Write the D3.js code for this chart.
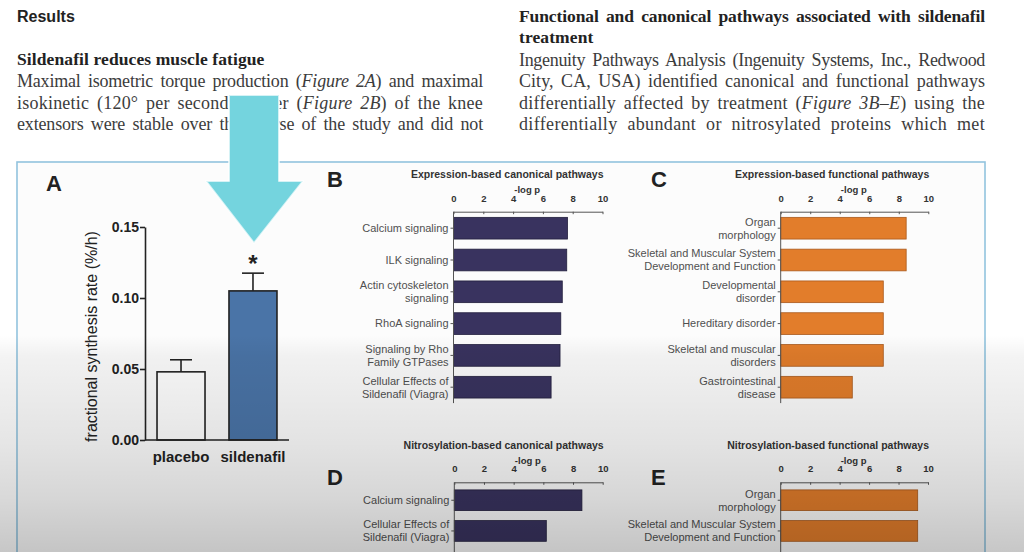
<!DOCTYPE html>
<html>
<head>
<meta charset="utf-8">
<script src="https://cdn.jsdelivr.net/npm/d3@7"></script>
<style>
    body { margin: 0; background: #fff; overflow: hidden; }
    svg { display: block; }
</style>
</head>
<body>
<svg id="page" width="1024" height="552"></svg>
<script>
//Panel A data: fractional synthesis rate
var fsrGroups = ["placebo", "sildenafil"];
var fsrMean = [0.048, 0.105];
var fsrSem = [0.0085, 0.0125];
var fsrTicks = [0, 0.05, 0.10, 0.15];

//Panels B-E data: -log p
var pTicks = [0, 2, 4, 6, 8, 10];

var exprCanonLabels = ["Calcium signaling", "ILK signaling", "Actin cytoskeleton\nsignaling", "RhoA signaling", "Signaling by Rho\nFamily GTPases", "Cellular Effects of\nSildenafil (Viagra)"];
var exprCanonValues = [7.65, 7.6, 7.3, 7.2, 7.15, 6.55];

var exprFuncLabels = ["Organ\nmorphology", "Skeletal and Muscular System\nDevelopment and Function", "Developmental\ndisorder", "Hereditary disorder", "Skeletal and muscular\ndisorders", "Gastrointestinal\ndisease"];
var exprFuncValues = [8.5, 8.5, 6.95, 6.95, 6.95, 4.85];

var nitroCanonLabels = ["Calcium signaling", "Cellular Effects of\nSildenafil (Viagra)"];
var nitroCanonValues = [8.6, 6.2];

var nitroFuncLabels = ["Organ\nmorphology", "Skeletal and Muscular System\nDevelopment and Function"];
var nitroFuncValues = [9.3, 9.3];

//Page text lines (_..._ = italic)
var leftHead = "Results";
var leftSub = "Sildenafil reduces muscle fatigue";
var leftLines = [
    "Maximal isometric torque production (_Figure 2A_) and maximal",
    "isokinetic (120° per second) power (_Figure 2B_) of the knee",
    "extensors were stable over the course of the study and did not"
];
var rightHead = ["Functional and canonical pathways associated with sildenafil", "treatment"];
var rightLines = [
    "Ingenuity Pathways Analysis (Ingenuity Systems, Inc., Redwood",
    "City, CA, USA) identified canonical and functional pathways",
    "differentially affected by treatment (_Figure 3B–E_) using the",
    "differentially abundant or nitrosylated proteins which met"
];

var svg = d3.select("#page");
var sans = "'Liberation Sans', Arial, sans-serif";
var serif = "'Liberation Serif', 'Times New Roman', serif";

//Stretch a line to a given width: a little letter spacing, the rest as word spacing
function justify(sel, width, maxLetter) {
    sel.each(function() {
        var t = d3.select(this);
        var str = this.textContent;
        var spaces = (str.match(/ /g) || []).length;
        var chars = str.length;
        t.attr("letter-spacing", 0).attr("word-spacing", 0);
        var n0 = this.getComputedTextLength();
        var ls = Math.min(maxLetter, (width - n0 - 3 * spaces) / chars);
        t.attr("letter-spacing", ls);
        var n1 = this.getComputedTextLength();
        if (spaces > 0) t.attr("word-spacing", (width - n1) / spaces);
    });
}

//Write a line, turning _x_ parts into italic tspans
function writeLine(g, str, x, y, opts) {
    var t = g.append("text")
        .attr("x", x)
        .attr("y", y)
        .attr("font-family", serif)
        .attr("font-size", opts.size)
        .attr("font-weight", opts.bold ? "bold" : "normal")
        .attr("letter-spacing", opts.spacing || 0)
        .attr("fill", opts.color);
    str.split("_").forEach(function(part, i) {
        t.append("tspan")
            .attr("font-style", i % 2 === 1 ? "italic" : "normal")
            .text(part);
    });
    if (opts.width) justify(t, opts.width, opts.spacing || 0);
    return t;
}

var textGroup = svg.append("g");

textGroup.append("text")
    .attr("x", 17)
    .attr("y", 22)
    .attr("font-family", sans)
    .attr("font-size", 16)
    .attr("font-weight", "bold")
    .attr("fill", "#222")
    .text(leftHead);

writeLine(textGroup, leftSub, 17, 65, {size: 17.5, bold: true, color: "#222", spacing: 0.1});
leftLines.forEach(function(l, i) {
    writeLine(textGroup, l, 17, 87.3 + i * 21.2, {size: 18, color: "#3c3c3c", width: 466, spacing: 0.35});
});

writeLine(textGroup, rightHead[0], 519, 21.7, {size: 17.5, bold: true, color: "#222", width: 466, spacing: 0.1});
writeLine(textGroup, rightHead[1], 519, 43.3, {size: 17.5, bold: true, color: "#222", spacing: 0.1});
rightLines.forEach(function(l, i) {
    writeLine(textGroup, l, 519, 65.7 + i * 21.4, {size: 18, color: "#3c3c3c", width: 466, spacing: 0.35});
});

//Figure frame
svg.append("rect")
    .attr("x", 17)
    .attr("y", 162)
    .attr("width", 968)
    .attr("height", 420)
    .attr("fill", "#fcfcfc")
    .attr("stroke", "#92c3de")
    .attr("stroke-width", 1.6);

//Panel letter helper
function panelLetter(letter, x, y) {
    svg.append("text")
        .attr("x", x)
        .attr("y", y)
        .attr("font-family", sans)
        .attr("font-size", 22)
        .attr("font-weight", "bold")
        .attr("fill", "#222")
        .text(letter);
}

// ---------- Panel A ----------
panelLetter("A", 46, 191);

var aGroup = svg.append("g");

var yA = d3.scaleLinear()
    .domain([0, 0.15])
    .range([440, 227]);

var xA = d3.scaleBand()
    .domain(fsrGroups)
    .range([145, 289])
    .paddingInner(0.333)
    .paddingOuter(0.167);

var fsrData = fsrGroups.map(function(g, i) {
    return {group: g, mean: fsrMean[i], sem: fsrSem[i]};
});

//Error bars
var errGroup = aGroup.selectAll(".err")
    .data(fsrData)
    .enter()
    .append("g")
    .attr("stroke", "#222")
    .attr("stroke-width", 1.6);

errGroup.append("line")
    .attr("x1", d => xA(d.group) + xA.bandwidth() / 2)
    .attr("x2", d => xA(d.group) + xA.bandwidth() / 2)
    .attr("y1", d => yA(d.mean))
    .attr("y2", d => yA(d.mean + d.sem));

errGroup.append("line")
    .attr("x1", d => xA(d.group) + xA.bandwidth() / 2 - 11)
    .attr("x2", d => xA(d.group) + xA.bandwidth() / 2 + 11)
    .attr("y1", d => yA(d.mean + d.sem))
    .attr("y2", d => yA(d.mean + d.sem));

//Bars
aGroup.selectAll("rect")
    .data(fsrData)
    .enter()
    .append("rect")
    .attr("x", d => xA(d.group))
    .attr("y", d => yA(d.mean))
    .attr("width", xA.bandwidth())
    .attr("height", d => yA(0) - yA(d.mean))
    .attr("fill", (d, i) => i === 0 ? "#ffffff" : "#4a74a7")
    .attr("stroke", "#222")
    .attr("stroke-width", 1.6);

//Significance mark
aGroup.append("text")
    .attr("x", xA("sildenafil") + xA.bandwidth() / 2)
    .attr("y", yA(fsrMean[1] + fsrSem[1]) - 1)
    .attr("text-anchor", "middle")
    .attr("font-family", sans)
    .attr("font-size", 24)
    .attr("font-weight", "bold")
    .attr("fill", "#222")
    .text("*");

//Axes
var leftAxisA = d3.axisLeft(yA)
    .tickValues(fsrTicks)
    .tickFormat(d3.format(".2f"))
    .tickSize(5)
    .tickSizeOuter(0)
    .tickPadding(1);

var yAxisA = aGroup.append("g")
    .attr("transform", "translate(145,0)")
    .call(leftAxisA);
yAxisA.selectAll("path, line").attr("stroke", "#222").attr("stroke-width", 1.6);
yAxisA.selectAll("text")
    .attr("font-family", sans)
    .attr("font-size", 14)
    .attr("font-weight", "bold")
    .attr("fill", "#222");

aGroup.append("line")
    .attr("x1", 145)
    .attr("x2", 289)
    .attr("y1", yA(0))
    .attr("y2", yA(0))
    .attr("stroke", "#222")
    .attr("stroke-width", 1.6);

aGroup.selectAll(".cat")
    .data(fsrGroups)
    .enter()
    .append("text")
    .attr("x", d => xA(d) + xA.bandwidth() / 2)
    .attr("y", 461.5)
    .attr("text-anchor", "middle")
    .attr("font-family", sans)
    .attr("font-size", 15)
    .attr("font-weight", "bold")
    .attr("fill", "#222")
    .text(d => d);

aGroup.append("text")
    .attr("transform", "translate(97," + 336.5 + ") rotate(-90)")
    .attr("text-anchor", "middle")
    .attr("font-family", sans)
    .attr("font-size", 16)
    .attr("fill", "#222")
    .text("fractional synthesis rate (%/h)");

// ---------- Panels B-E ----------
function hbarPanel(cfg) {
    var g = svg.append("g");
    var n = cfg.labels.length;
    var pad = 1 - cfg.barH / cfg.step;

    var x = d3.scaleLinear()
        .domain([0, 10])
        .range([cfg.x0, cfg.x1]);

    var y = d3.scaleBand()
        .domain(cfg.labels)
        .range([cfg.top, cfg.top + cfg.step * n])
        .paddingInner(pad)
        .paddingOuter(pad / 2);

    //Title and axis name
    g.append("text")
        .attr("x", cfg.x1 + 1)
        .attr("y", cfg.axisY - 33.5)
        .attr("text-anchor", "end")
        .attr("font-family", sans)
        .attr("font-size", 10.5)
        .attr("font-weight", "bold")
        .attr("fill", "#333")
        .text(cfg.title);

    g.append("text")
        .attr("x", x(4.95))
        .attr("y", cfg.axisY - 18.5)
        .attr("text-anchor", "middle")
        .attr("font-family", sans)
        .attr("font-size", 9.5)
        .attr("font-weight", "bold")
        .attr("fill", "#333")
        .text("-log p");

    //Top axis
    var topAxis = d3.axisTop(x)
        .tickValues(pTicks)
        .tickSize(-2.5)
        .tickSizeOuter(0)
        .tickPadding(10);

    var xAxis = g.append("g")
        .attr("transform", "translate(0," + cfg.axisY + ")")
        .call(topAxis);
    xAxis.selectAll("path, line").attr("stroke", "#555").attr("stroke-width", 1);
    xAxis.selectAll("text")
        .attr("font-family", sans)
        .attr("font-size", 9.5)
        .attr("font-weight", "bold")
        .attr("fill", "#333");

    //Bars
    g.selectAll("rect")
        .data(cfg.values)
        .enter()
        .append("rect")
        .attr("x", x(0))
        .attr("y", (d, i) => y(cfg.labels[i]))
        .attr("width", d => x(d) - x(0))
        .attr("height", y.bandwidth())
        .attr("fill", cfg.color)
        .attr("stroke", cfg.edge)
        .attr("stroke-width", 0.8);

    //Left axis line and ticks
    g.append("line")
        .attr("x1", x(0))
        .attr("x2", x(0))
        .attr("y1", cfg.axisY)
        .attr("y2", cfg.axisEnd || (cfg.top + cfg.step * n))
        .attr("stroke", "#555")
        .attr("stroke-width", 1);

    g.selectAll(".ytick")
        .data(cfg.labels)
        .enter()
        .append("line")
        .attr("x1", x(0) - 3)
        .attr("x2", x(0))
        .attr("y1", d => y(d) + y.bandwidth() / 2)
        .attr("y2", d => y(d) + y.bandwidth() / 2)
        .attr("stroke", "#555");

    //Category labels
    var lab = g.selectAll(".lab")
        .data(cfg.labels)
        .enter()
        .append("text")
        .attr("text-anchor", "end")
        .attr("font-family", sans)
        .attr("font-size", 11)
        .attr("fill", "#505050");

    lab.each(function(d) {
        var lines = d.split("\n");
        var cy = y(d) + y.bandwidth() / 2;
        var t = d3.select(this);
        lines.forEach(function(line, k) {
            t.append("tspan")
                .attr("x", x(0) - 5)
                .attr("y", cy + (k - (lines.length - 1) / 2) * 13)
                .attr("dy", "0.35em")
                .text(line);
        });
    });
}

panelLetter("B", 327, 187);
hbarPanel({
    title: "Expression-based canonical pathways",
    labels: exprCanonLabels, values: exprCanonValues,
    x0: 453.5, x1: 602.5, axisY: 211.7,
    top: 212.3, step: 31.8, barH: 21.7,
    color: "#39335f", edge: "#221f3d"
});

panelLetter("C", 651, 187);
hbarPanel({
    title: "Expression-based functional pathways",
    labels: exprFuncLabels, values: exprFuncValues,
    x0: 780.7, x1: 928.3, axisY: 211.7,
    top: 212.3, step: 31.8, barH: 21.7,
    color: "#e27d2b", edge: "#a9591c"
});

panelLetter("D", 327, 485);
hbarPanel({
    title: "Nitrosylation-based canonical pathways",
    labels: nitroCanonLabels, values: nitroCanonValues,
    x0: 454.3, x1: 602.7, axisY: 482.3,
    top: 484.9, step: 30.7, barH: 20.7, axisEnd: 560,
    color: "#39335f", edge: "#221f3d"
});

panelLetter("E", 651, 485);
hbarPanel({
    title: "Nitrosylation-based functional pathways",
    labels: nitroFuncLabels, values: nitroFuncValues,
    x0: 780.7, x1: 928, axisY: 482.3,
    top: 484.9, step: 30.7, barH: 20.7, axisEnd: 560,
    color: "#e27d2b", edge: "#a9591c"
});

//Gray shading over the lower part of the screenshot
var defs = svg.append("defs");
var grad = defs.append("linearGradient")
    .attr("id", "shade")
    .attr("gradientUnits", "userSpaceOnUse")
    .attr("x1", 0).attr("y1", 335)
    .attr("x2", 0).attr("y2", 552);
[[0, 0], [0.1, 0.045], [0.5, 0.1], [0.75, 0.15], [1, 0.22]].forEach(function(s) {
    grad.append("stop")
        .attr("offset", s[0])
        .attr("stop-color", "#000")
        .attr("stop-opacity", s[1]);
});

svg.append("rect")
    .attr("x", 0)
    .attr("y", 335)
    .attr("width", 1024)
    .attr("height", 217)
    .attr("fill", "url(#shade)");

//Cyan arrow pointing at the sildenafil bar
var arrowPts = [[229, 95], [279, 95], [279, 181], [303, 181], [254, 243], [206, 181], [229, 181]];
svg.append("polygon")
    .attr("points", arrowPts.map(p => p.join(",")).join(" "))
    .attr("fill", "#74d4de")
    .attr("stroke", "#ffffff")
    .attr("stroke-opacity", 0.7)
    .attr("stroke-width", 2)
    .attr("stroke-linejoin", "round");
</script>
</body>
</html>
